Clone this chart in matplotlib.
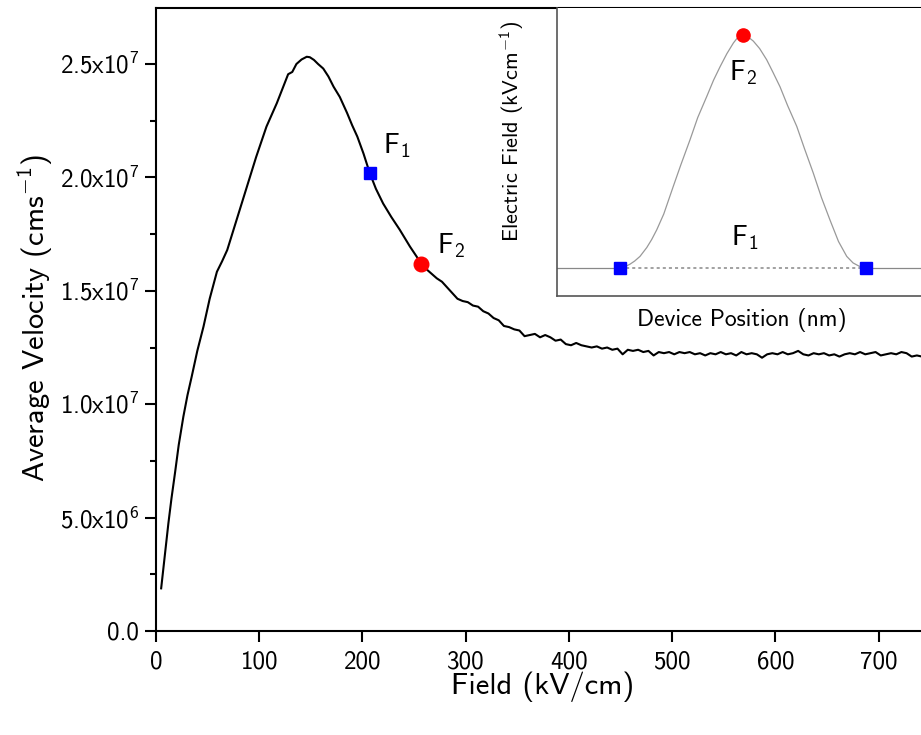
import matplotlib
matplotlib.use("Agg")
import matplotlib.pyplot as plt
from matplotlib.ticker import FuncFormatter, MultipleLocator
import numpy as np

plt.rcParams['font.family'] = ['cmss10', 'DejaVu Sans']
plt.rcParams['mathtext.fontset'] = 'custom'
plt.rcParams['mathtext.rm'] = 'cmss10'
plt.rcParams['mathtext.it'] = 'cmss10'
plt.rcParams['mathtext.bf'] = 'cmss10'
plt.rcParams['axes.unicode_minus'] = False

# velocity-field curve (field in kV/cm, velocity in 1e6 cm/s)
field = [5, 7, 9.5, 12, 15, 18.5, 22, 26.5, 30.5, 34.5, 40, 46, 52, 59, 64,
         69, 72, 80, 88, 97, 107, 112, 117, 122, 128, 132, 136, 141, 146, 149,
         153, 157, 162, 167, 172, 178, 185, 190, 195, 201, 207, 213, 220, 228,
         236, 246, 257, 262, 267, 272, 277, 282, 287, 292, 297, 302, 307, 312,
         317, 322, 327, 332, 337, 342, 347, 352, 357, 362, 367, 372, 377, 382,
         387, 392, 397, 402, 407, 412, 417, 422, 427, 432, 437, 442, 447, 452,
         457, 462, 467, 472, 477, 482, 487, 492, 497, 502, 507, 512, 517, 522,
         527, 532, 537, 542, 547, 552, 557, 562, 567, 572, 577, 582, 587, 592,
         597, 602, 607, 612, 617, 622, 627, 632, 637, 642, 647, 652, 657, 662,
         667, 672, 677, 682, 687, 692, 697, 702, 707, 712, 717, 722, 727, 732,
         737, 742]
velocity = [1.88, 2.7, 3.75, 4.75, 5.85, 7.0, 8.2, 9.45, 10.4, 11.2, 12.35,
            13.42, 14.65, 15.84, 16.3, 16.8, 17.24, 18.4, 19.6, 20.9, 22.24,
            22.75, 23.27, 23.85, 24.55, 24.65, 25.0, 25.2, 25.32, 25.3, 25.18,
            25.0, 24.8, 24.45, 24.0, 23.55, 22.85, 22.3, 21.8, 21.05, 20.2,
            19.5, 18.85, 18.25, 17.7, 16.95, 16.2, 15.95, 15.75, 15.55, 15.4,
            15.15, 14.9, 14.65, 14.55, 14.5, 14.35, 14.3, 14.1, 14.0, 13.8,
            13.7, 13.45, 13.4, 13.3, 13.25, 13.0, 13.05, 13.1, 12.95, 13.05,
            12.95, 12.8, 12.85, 12.65, 12.6, 12.7, 12.6, 12.55, 12.5, 12.55,
            12.45, 12.5, 12.4, 12.45, 12.2, 12.4, 12.35, 12.4, 12.3, 12.35,
            12.15, 12.3, 12.25, 12.3, 12.2, 12.3, 12.25, 12.3, 12.2, 12.25,
            12.15, 12.25, 12.2, 12.3, 12.2, 12.25, 12.15, 12.3, 12.2, 12.25,
            12.2, 12.05, 12.2, 12.25, 12.2, 12.3, 12.2, 12.25, 12.35, 12.2,
            12.15, 12.25, 12.2, 12.25, 12.15, 12.2, 12.1, 12.2, 12.25, 12.2,
            12.3, 12.2, 12.25, 12.3, 12.15, 12.2, 12.25, 12.2, 12.3, 12.25,
            12.1, 12.15, 12.1]
velocity = [v * 1e6 for v in velocity]

# operating points
f1 = (207, 20.2e6)
f2 = (257, 16.2e6)

# electric field profile across the device (nm, kV/cm)
position = [0, 26.0, 28, 30, 32, 34.2, 37, 39, 41.1, 44, 47.9, 51, 54.8, 58,
            61.7, 64.5, 67.2, 70, 72.7, 74.5, 76.5, 78.5, 80.9, 83.5, 86.4, 89,
            91.9, 95, 98.8, 102, 105.6, 109, 112.5, 116, 119.4, 122, 124.5,
            127.3, 150]
efield = [207, 207.0, 207.2, 207.7, 208.4, 209.4, 211.3, 213.0, 215.1, 218.5,
          224.4, 229.0, 234.4, 239.2, 243.7, 247.2, 250.1, 252.9, 255.2, 256.4,
          257.0, 256.6, 255.6, 254.0, 251.6, 248.9, 245.8, 241.8, 237.3, 232.5,
          227.3, 222.0, 217.2, 212.6, 209.4, 208.0, 207.3, 207.0, 207]
low_x = [26.0, 127.3]
peak_x = 76.5


def sci_fmt(value, pos):
    if value == 0:
        return '0.0'
    exp = int(np.floor(np.log10(abs(value))))
    mant = value / 10 ** exp
    return '%.1fx10$^{%d}$' % (mant, exp)


fig = plt.figure(figsize=(9.21, 7.35), dpi=100)
ax = fig.add_axes([156 / 921, 1 - 631 / 735, 1 - 156 / 921, 623 / 735])

ax.plot(field, velocity, color='black', lw=1.5, zorder=2)
ax.plot(*f1, 's', color='#0000ff', ms=9, zorder=3)
ax.plot(*f2, 'o', color='#ff0000', ms=10.5, zorder=3)
ax.text(220, 21.08e6, 'F$_1$', fontsize=20)
ax.text(272, 16.67e6, 'F$_2$', fontsize=20)

ax.set_xlim(0, 741)
ax.set_ylim(0, 2.747e7)
ax.xaxis.set_major_locator(MultipleLocator(100))
ax.yaxis.set_major_locator(MultipleLocator(5e6))
ax.yaxis.set_minor_locator(MultipleLocator(2.5e6))
ax.yaxis.set_major_formatter(FuncFormatter(sci_fmt))
ax.tick_params(axis='both', which='major', direction='out', length=8,
               width=1.5, labelsize=18)
ax.tick_params(axis='y', which='minor', direction='out', length=4.5, width=1.5)
ax.tick_params(axis='x', pad=6)
ax.tick_params(axis='y', pad=4)
ax.spines['right'].set_visible(False)
for s in ['left', 'bottom', 'top']:
    ax.spines[s].set_linewidth(1.5)

fig.text(543 / 921, 1 - 687 / 735, 'Field (kV/cm)', fontsize=22,
         ha='center', va='center')
fig.text(35 / 921, 1 - 318 / 735, 'Average Velocity (cms$^{-1}$)', fontsize=22,
         ha='center', va='center', rotation=90)

# inset: field profile
ins = fig.add_axes([557 / 921, 1 - 296 / 735, 1 - 557 / 921, 288 / 735])
ins.plot(position[:2], efield[:2], color='#888888', lw=0.9)
ins.plot(position[1:-1], efield[1:-1], color='#999999', lw=0.9)
ins.plot(position[-2:], efield[-2:], color='#888888', lw=0.9)
ins.plot(low_x, [efield[0]] * 2, color='#888888', lw=1.1, ls=(0, (2, 2)))
ins.plot(low_x, [efield[0]] * 2, 's', color='#0000ff', ms=8, zorder=3)
ins.plot(peak_x, max(efield), 'o', color='#ff0000', ms=9.5, zorder=3)
ins.set_xlim(0, 150)
ins.set_ylim(200.9, 262.7)
ins.set_xticks([])
ins.set_yticks([])
ins.spines['top'].set_visible(False)
ins.spines['right'].set_visible(False)
for s in ['left', 'bottom']:
    ins.spines[s].set_color('#555555')
    ins.spines[s].set_linewidth(1.2)

ins.text(peak_x, 247.3, 'F$_2$', fontsize=20, ha='center', va='baseline')
ins.text(peak_x + 1, 211.9, 'F$_1$', fontsize=20, ha='center', va='baseline')
fig.text(742 / 921, 1 - 320 / 735, 'Device Position (nm)', fontsize=17,
         ha='center', va='center')
fig.text(512 / 921, 1 - 131 / 735, 'Electric Field (kVcm$^{-1}$)', fontsize=16,
         ha='center', va='center', rotation=90)

fig.savefig('out.png', dpi=100)
